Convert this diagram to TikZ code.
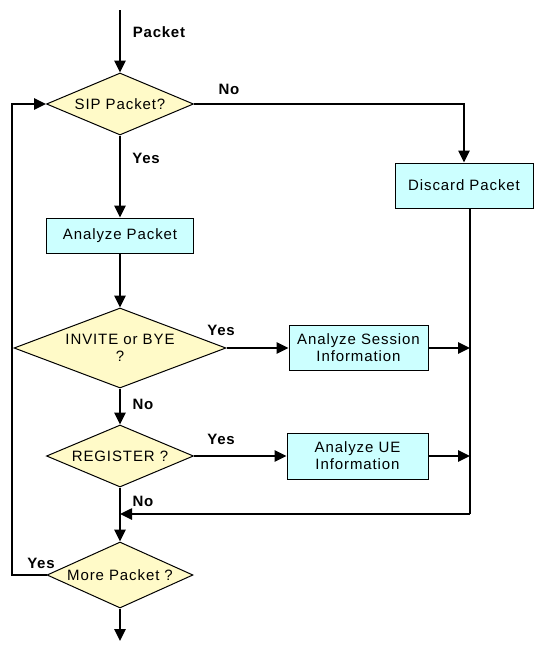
\documentclass[tikz,border=0pt]{standalone}
\usepackage{fontspec}
\setmainfont{Liberation Sans}
\newfontfamily\boxfont[LetterSpace=6]{Liberation Sans}
\newfontfamily\lblfont[LetterSpace=5]{Liberation Sans}
\usetikzlibrary{shapes.geometric,arrows.meta}
\definecolor{decfill}{RGB}{255,250,200}
\definecolor{procfill}{RGB}{204,255,255}
\begin{document}
\begin{tikzpicture}[x=1pt, y=-1pt,
  flow/.style={line width=2.5pt, -{Triangle[length=12pt,width=11pt]}},
  wire/.style={line width=2.5pt},
  decision/.style={diamond, draw, line width=1pt, fill=decfill, inner sep=0pt, align=center, font={\boxfont\fontsize{15}{17}\selectfont}},
  process/.style={rectangle, draw, line width=1pt, fill=procfill, inner sep=0pt, align=center, font={\boxfont\fontsize{15}{17}\selectfont}},
  lbl/.style={font={\lblfont\bfseries\fontsize{15}{17}\selectfont}}]
\useasboundingbox (0,0) rectangle (536,645);
\node[decision, aspect=2.37, minimum width=147, minimum height=62] (sip) at (120,104) {SIP Packet?};
\node[process, minimum width=147, minimum height=35] (ana) at (120,235.5) {Analyze Packet};
\node[decision, aspect=2.65, minimum width=212, minimum height=80] (inv) at (120,348) {INVITE or BYE\\?};
\node[decision, aspect=2.37, minimum width=147, minimum height=62] (reg) at (120,456) {REGISTER ?};
\node[decision, aspect=2.21, minimum width=146, minimum height=66] (more) at (120,575) {More Packet ?};
\node[process, minimum width=138, minimum height=45] (disc) at (464,185.5) {Discard Packet};
\node[process, minimum width=139, minimum height=45] (sess) at (358.5,348) {Analyze Session\\Information};
\node[process, minimum width=141, minimum height=46] (ue) at (357.5,456) {Analyze UE\\Information};
\coordinate (top) at (120,10);
\coordinate (bot) at (120,641);
\coordinate (rj) at (470,514);
\coordinate (mj) at (120,514);
\coordinate (lj) at (12,104);
\draw[flow] (top) -- (sip);
\draw[flow] (sip) -- (ana);
\draw[flow] (ana) -- (inv);
\draw[flow] (inv) -- (reg);
\draw[flow] (reg) -- (more);
\draw[flow] (more) -- (bot);
\draw[flow] (sip.east) -| (disc.north);
\draw[flow] (inv.east) -- (sess.west);
\draw[flow] (reg.east) -- (ue.west);
\draw[flow] (sess.east) -- (sess.east -| rj);
\draw[flow] (ue.east) -- (ue.east -| rj);
\draw[wire] (disc.south -| rj) -- (rj);
\draw[flow] (rj) -- (mj);
\draw[flow] (more.west) -- (more.west -| lj) -- (lj) -- (sip.west);
\node[lbl] (lpk) at (159,32) {Packet};
\node[lbl] (lno1) at (229,89) {No};
\node[lbl] (lyes1) at (146,158) {Yes};
\node[lbl] (lyes2) at (221,330) {Yes};
\node[lbl] (lno2) at (143,404) {No};
\node[lbl] (lyes3) at (221,439) {Yes};
\node[lbl] (lno3) at (143,501) {No};
\node[lbl] (lyes4) at (41,563) {Yes};
\end{tikzpicture}
\end{document}
